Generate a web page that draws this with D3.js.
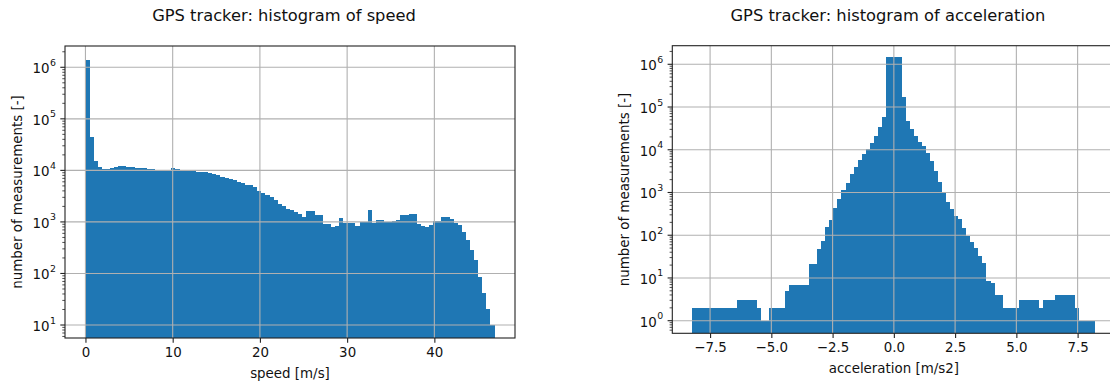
<!DOCTYPE html>
<html>
<head>
<meta charset="utf-8">
<script src="https://cdn.jsdelivr.net/npm/d3@7"></script>
<style>
  body { margin: 0; background: #fff; }
  svg { display: block; }
  text { font-family: "DejaVu Sans", sans-serif; fill: #111; }
</style>
</head>
<body>
<svg id="fig" width="1110" height="384"></svg>
<script>
// ---- data: GPS tracker histograms (100 equal-width bins each) ----
const speedRange = [0, 46.9];          // m/s, first and last bin edge
const speedCounts = [
  1.4e6, 4.5e4, 1.55e4, 1.15e4, 1.08e4, 1.04e4, 1.12e4, 1.15e4, 1.2e4, 1.22e4,
  1.18e4, 1.15e4, 1.1e4, 1.09e4, 1.09e4, 1.07e4, 1.05e4, 1.03e4, 1.03e4, 1.02e4,
  1.02e4, 1.1e4, 1.06e4, 1.03e4, 1.01e4, 9.9e3, 9.6e3, 9.3e3, 9.2e3, 9.1e3,
  8.9e3, 8.5e3, 8.0e3, 7.6e3, 7.2e3, 6.8e3, 6.5e3, 6.0e3, 5.6e3, 5.3e3,
  5.3e3, 4.8e3, 4.0e3, 3.6e3, 3.3e3, 3.0e3, 2.7e3, 2.25e3, 2.0e3, 1.75e3,
  1.68e3, 1.55e3, 1.4e3, 1.25e3, 1.6e3, 1.6e3, 1.35e3, 1.35e3, 9.0e2, 9.0e2,
  8.0e2, 8.4e2, 1.2e3, 9.4e2, 9.6e2, 9.6e2, 8.5e2, 1.0e3, 1.0e3, 1.7e3,
  9.6e2, 1.1e3, 1.1e3, 1.0e3, 1.0e3, 1.05e3, 1.1e3, 1.35e3, 1.35e3, 1.45e3,
  1.45e3, 9.0e2, 8.3e2, 7.9e2, 8.6e2, 1.05e3, 1.05e3, 1.25e3, 1.25e3, 1.15e3,
  9.6e2, 8.9e2, 6.5e2, 4.4e2, 2.8e2, 1.8e2, 8.5e1, 4.1e1, 2.0e1, 1.0e1
];

const accelRange = [-8.22, 8.22];      // m/s2, first and last bin edge
const accelCounts = [
  2, 2, 2, 2, 2, 2, 2, 2, 2, 2,
  2, 3, 3, 3, 3, 3, 2, 1, 1, 2,
  2, 2, 2, 5, 7, 7, 7, 7, 7, 21,
  21, 47, 73, 155, 230, 430, 690, 1150, 1700, 2700,
  4000, 5700, 7900, 1.07e4, 1.47e4, 2.15e4, 3.5e4, 5.7e4, 1.46e6, 1.46e6,
  1.46e6, 1.46e6, 1.7e5, 4.8e4, 3.1e4, 2.1e4, 1.5e4, 1.2e4, 8.3e3, 5.6e3,
  3.2e3, 1.8e3, 1.0e3, 600, 410, 280, 235, 145, 96, 71,
  49, 32, 22, 8.5, 7.5, 4, 4, 2, 2, 2,
  2, 3, 3, 3, 3, 3, 2, 3, 3, 3,
  4, 4, 4, 4, 4, 2, 1, 1, 1, 1
];

const speedTicks = [0, 10, 20, 30, 40];
const accelTicks = [-7.5, -5.0, -2.5, 0.0, 2.5, 5.0, 7.5];
const speedDecades = [1, 2, 3, 4, 5, 6];
const accelDecades = [0, 1, 2, 3, 4, 5, 6];

const titles = ["GPS tracker: histogram of speed", "GPS tracker: histogram of acceleration"];
const xLabels = ["speed [m/s]", "acceleration [m/s2]"];
const yLabel = "number of measurements [-]";

// ---- drawing ----
const svg = d3.select("#fig");
const BAR = "#1f77b4", GRID = "#b0b0b0", SPINE = "#222";
const FS = 13.4;

function edgesOf(range, n) {
  const w = (range[1] - range[0]) / n;
  return d3.range(n + 1).map(i => range[0] + i * w);
}

function panel(cfg) {
  const { box, range, counts, xTicks, xFmt, decades, yLog, title, xLabel } = cfg;
  const edges = edgesOf(range, counts.length);
  const span = range[1] - range[0];
  const x = d3.scaleLinear()
    .domain([range[0] - 0.05 * span, range[1] + 0.05 * span])
    .range([box.left, box.right]);
  const y = d3.scaleLog()
    .domain([Math.pow(10, yLog[0]), Math.pow(10, yLog[1])])
    .range([box.bottom, box.top]);

  const g = svg.append("g");
  const clipId = "clip" + Math.round(box.left);
  g.append("clipPath").attr("id", clipId).append("rect")
    .attr("x", box.left).attr("y", box.top)
    .attr("width", box.right - box.left).attr("height", box.bottom - box.top);

  // bars
  g.append("g").attr("clip-path", `url(#${clipId})`)
    .selectAll("rect").data(counts).join("rect")
    .attr("x", (d, i) => x(edges[i]))
    .attr("width", (d, i) => x(edges[i + 1]) - x(edges[i]))
    .attr("y", d => y(d))
    .attr("height", d => box.bottom - y(d))
    .attr("fill", BAR)
    .attr("shape-rendering", "crispEdges");

  // grid (drawn above bars)
  const grid = g.append("g").attr("stroke", GRID).attr("stroke-width", 1.1);
  grid.selectAll("line.gx").data(xTicks).join("line")
    .attr("x1", d => x(d)).attr("x2", d => x(d))
    .attr("y1", box.top).attr("y2", box.bottom);
  grid.selectAll("line.gy").data(decades).join("line")
    .attr("x1", box.left).attr("x2", box.right)
    .attr("y1", d => y(Math.pow(10, d))).attr("y2", d => y(Math.pow(10, d)));

  // x axis
  const xAxis = d3.axisBottom(x).tickValues(xTicks).tickFormat(xFmt)
    .tickSizeInner(4.7).tickSizeOuter(0).tickPadding(4.5);
  const xa = g.append("g").attr("transform", `translate(0,${box.bottom})`).call(xAxis);
  xa.select(".domain").remove();
  xa.selectAll("line").attr("stroke", SPINE).attr("stroke-width", 1.1);
  xa.selectAll("text").attr("font-size", FS).attr("fill", "#111")
    .attr("font-family", "DejaVu Sans");

  // y axis: decade ticks with 10^n labels, plus minor ticks
  const minors = [];
  decades.concat([decades[0] - 1]).forEach(dd => {
    for (let m = 2; m <= 9; m++) {
      const v = m * Math.pow(10, dd);
      const [lo, hi] = y.domain();
      if (v >= lo && v <= hi) minors.push(v);
    }
  });
  const ya = g.append("g");
  ya.selectAll("line.minor").data(minors).join("line")
    .attr("x1", box.left - 2.7).attr("x2", box.left)
    .attr("y1", d => y(d)).attr("y2", d => y(d))
    .attr("stroke", SPINE).attr("stroke-width", 0.8);
  ya.selectAll("line.major").data(decades).join("line")
    .attr("x1", box.left - 4.7).attr("x2", box.left)
    .attr("y1", d => y(Math.pow(10, d))).attr("y2", d => y(Math.pow(10, d)))
    .attr("stroke", SPINE).attr("stroke-width", 1.1);
  ya.selectAll("text.base").data(decades).join("text")
    .attr("class", "base")
    .attr("x", box.left - 15.5)
    .attr("y", d => y(Math.pow(10, d)) + 6)
    .attr("text-anchor", "end")
    .attr("font-size", FS)
    .text("10");
  // exponent placed just right of the "10"
  ya.selectAll("text.exp").data(decades).join("text")
    .attr("class", "exp")
    .attr("x", box.left - 15)
    .attr("y", d => y(Math.pow(10, d)) - 1.5)
    .attr("font-size", 9.4)
    .text(d => d);

  // frame
  g.append("rect")
    .attr("x", box.left).attr("y", box.top)
    .attr("width", box.right - box.left).attr("height", box.bottom - box.top)
    .attr("fill", "none").attr("stroke", SPINE).attr("stroke-width", 1.1);

  // title and labels
  const cx = (box.left + box.right) / 2;
  g.append("text").attr("x", cx - 6).attr("y", 20.5).attr("text-anchor", "middle")
    .attr("font-size", 16.3).text(title);
  g.append("text").attr("x", cx).attr("y", box.bottom + 40).attr("text-anchor", "middle")
    .attr("font-size", FS).text(xLabel);
  const ly = (box.top + box.bottom) / 2;
  g.append("text")
    .attr("transform", `translate(${box.left - 43},${ly}) rotate(-90)`)
    .attr("text-anchor", "middle").attr("font-size", FS).text(yLabel);
}

const fmtSpeed = d3.format("d");
const fmtAccel = d => d3.format(".1f")(d).replace("-", "\u2212");

panel({
  box: { left: 65, right: 515, top: 46, bottom: 338 },
  range: speedRange, counts: speedCounts,
  xTicks: speedTicks, xFmt: fmtSpeed,
  decades: speedDecades, yLog: [0.748, 6.413],
  title: titles[0], xLabel: xLabels[0]
});

panel({
  box: { left: 672.3, right: 1115.4, top: 45.7, bottom: 333.3 },
  range: accelRange, counts: accelCounts,
  xTicks: accelTicks, xFmt: fmtAccel,
  decades: accelDecades, yLog: [-0.295, 6.435],
  title: titles[1], xLabel: xLabels[1]
});
</script>
</body>
</html>
